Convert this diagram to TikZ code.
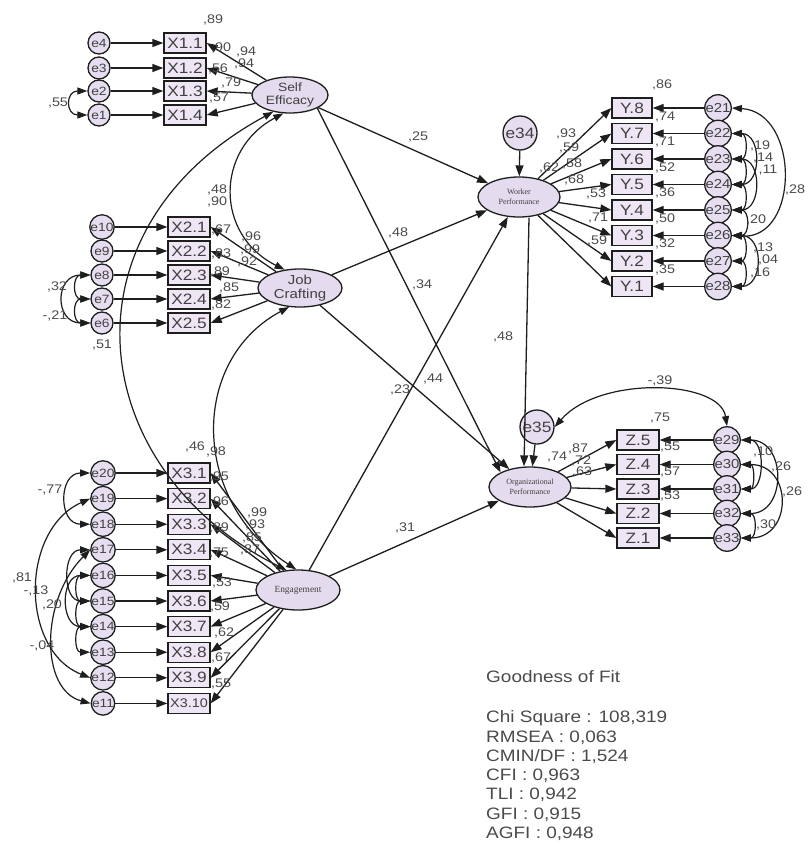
\documentclass[tikz,border=0pt]{standalone}
\usepackage{fontspec}
\setmainfont[FakeStretch=1.15]{Liberation Sans}
\newfontfamily\serifsmall{Liberation Serif}
\usetikzlibrary{shapes.geometric,arrows.meta}
\definecolor{latfill}{HTML}{E4DCEE}
\definecolor{boxfill}{HTML}{EEE6F4}
\definecolor{errfill}{HTML}{E6DEF0}
\definecolor{ink}{HTML}{1E1E1E}
\begin{document}
\begin{tikzpicture}[x=1pt,y=-1pt,
  obs/.style={draw=ink, line width=1.3pt, fill=boxfill, minimum width=42pt, minimum height=20pt, inner sep=0pt, font=\fontsize{15}{15}\selectfont, text=ink!85},
  err/.style={circle, draw=ink, line width=1.3pt, fill=errfill, minimum size=22pt, inner sep=0pt, font=\fontsize{12}{12}\selectfont, text=ink!85},
  errb/.style={err, minimum size=24pt, font=\fontsize{13}{13}\selectfont},
  lat/.style={ellipse, draw=ink, line width=1.3pt, fill=latfill, inner sep=0pt, align=center, text=ink!85},
  arr/.style={draw=ink, line width=1.3pt, -{Triangle[length=11pt,width=8pt]}},
  cov/.style={draw=ink, line width=1.2pt, {Triangle[length=10pt,width=7pt]}-{Triangle[length=10pt,width=7pt]}},
  lbl/.style={inner sep=0pt, font=\fontsize{12.5}{12.5}\selectfont, text=ink!80},
  gof/.style={inner sep=0pt, anchor=west, font=\fontsize{16.5}{16.5}\selectfont, text=ink!80}
]
\fill[white] (0,0) rectangle (807,843);
\useasboundingbox (0,0) rectangle (807,843);

% latent variables
\node[lat, minimum width=76pt, minimum height=36pt, font=\fontsize{12}{12.5}\selectfont] (SE) at (290,95) {Self\\Efficacy};
\node[lat, minimum width=84pt, minimum height=38pt, font=\fontsize{13}{13.5}\selectfont] (JC) at (300,288) {Job\\Crafting};
\node[lat, minimum width=84pt, minimum height=40pt, font=\serifsmall\fontsize{9.4}{10}\selectfont] (Eng) at (298,590) {Engagement};
\node[lat, minimum width=82pt, minimum height=40pt, font=\serifsmall\fontsize{8}{9.5}\selectfont] (WP) at (519,197) {Worker\\Performance};
\node[lat, minimum width=82pt, minimum height=40pt, font=\serifsmall\fontsize{8}{9.5}\selectfont] (Org) at (530,487) {Organizational\\Performance};
\node[err, minimum size=34pt, font=\fontsize{15}{15}\selectfont] (e34) at (520,133) {e34};
\node[err, minimum size=34pt, font=\fontsize{15}{15}\selectfont] (e35) at (537,427) {e35};

% X1 block
\foreach \i/\e/\yy in {1/4/43, 2/3/68, 3/2/91, 4/1/115} {
  \node[err] (e\e) at (99,\yy) {e\e};
  \node[obs] (X1\i) at (185,\yy) {X1.\i};
  \draw[arr] (e\e) -- (X1\i);
  \draw[arr] (SE) -- (X1\i.east);
}
% X2 block
\foreach \i/\e/\yy in {1/10/227, 2/9/251, 3/8/275, 4/7/299, 5/6/323} {
  \node[err] (e\e) at (102,\yy) {e\e};
  \node[obs] (X2\i) at (189,\yy) {X2.\i};
  \draw[arr] (e\e) -- (X2\i);
  \draw[arr] (JC) -- (X2\i.east);
}
% X3 block
\foreach \i in {1,...,10} {
  \pgfmathsetmacro\yy{473+25.6*(\i-1)}
  \pgfmathtruncatemacro\e{21-\i}
  \ifnum\i=10 \def\lab{\fontsize{12.5}{12.5}\selectfont X3.10}\else\def\lab{X3.\i}\fi
  \node[err] (e\e) at (103,\yy) {e\e};
  \node[obs] (X3\i) at (189,\yy) {\lab};
  \draw[arr] (e\e) -- (X3\i);
  \draw[arr] (Eng) -- (X3\i.east);
}
% Y block
\foreach \i in {1,...,8} {
  \pgfmathsetmacro\yy{108+25.5*(\i-1)}
  \pgfmathtruncatemacro\n{9-\i}
  \pgfmathtruncatemacro\e{20+\i}
  \node[errb] (e\e) at (718,\yy) {e\e};
  \node[obs, minimum width=40pt] (Y\n) at (632,\yy) {Y.\n};
  \draw[arr] (e\e) -- (Y\n);
  \draw[arr] (WP) -- (Y\n.west);
}
% Z block
\foreach \i in {1,...,5} {
  \pgfmathsetmacro\yy{440+24.5*(\i-1)}
  \pgfmathtruncatemacro\n{6-\i}
  \pgfmathtruncatemacro\e{28+\i}
  \node[errb] (e\e) at (727,\yy) {e\e};
  \node[obs] (Z\n) at (638,\yy) {Z.\n};
  \draw[arr] (e\e) -- (Z\n);
  \draw[arr] (Org) -- (Z\n.west);
}

% structural paths
\draw[arr] (e34) -- (WP);
\draw[arr] (e35) -- (Org);
\draw[arr] (SE) -- (WP);
\draw[arr] (SE.south east) -- (Org.north west);
\draw[arr] (JC) -- (WP);
\draw[arr] (JC) -- (Org);
\draw[arr] (Eng) -- (WP);
\draw[arr] (Eng) -- (Org);
\draw[arr] ([xshift=10pt]WP.south) -- ([xshift=-6pt]Org.north);

% latent covariances
\draw[cov] (SE.225) .. controls (55,230) and (85,470) .. (Eng.120);
\draw[cov] (SE.250) .. controls (215,150) and (215,235) .. (JC.130);
\draw[cov] (JC.240) .. controls (190,360) and (190,500) .. (Eng.95);

% error covariances, X blocks
\draw[cov] (e2.west) .. controls +(-22,0) and +(-22,0) .. (e1.west);
\draw[cov] (e8.west) .. controls +(-18,0) and +(-18,0) .. (e7.west);
\draw[cov] (e7.west) .. controls +(-18,0) and +(-18,0) .. (e6.west);
\draw[cov] (e8.west) .. controls +(-36,0) and +(-36,0) .. (e6.west);
\draw[cov] (e20.west) .. controls +(-32,0) and +(-32,0) .. (e18.west);
\draw[cov] (e19.west) .. controls (20,530) and (20,650) .. (e12.west);
\draw[cov] (e17.west) .. controls (40,600) and (40,690) .. (e11.west);
\draw[cov] (e16.west) .. controls +(-16,0) and +(-16,0) .. (e15.west);
\draw[cov] (e15.west) .. controls +(-16,0) and +(-16,0) .. (e14.west);
\draw[cov] (e16.west) .. controls +(-30,0) and +(-30,0) .. (e14.west);
\draw[cov] (e14.west) .. controls +(-16,0) and +(-16,0) .. (e13.west);
\draw[cov] (e17.west) .. controls +(-28,0) and +(-28,0) .. (e15.west);

% error covariances, Y block
\draw[cov] (e21.east) .. controls (800,112) and (800,240) .. (e26.east);
\draw[cov] (e22.east) .. controls +(16,0) and +(16,0) .. (e23.east);
\draw[cov] (e22.east) .. controls +(30,0) and +(30,0) .. (e24.east);
\draw[cov] (e23.east) .. controls +(16,0) and +(16,0) .. (e24.east);
\draw[cov] (e23.east) .. controls +(30,0) and +(30,0) .. (e25.east);
\draw[cov] (e24.east) .. controls +(16,0) and +(16,0) .. (e25.east);
\draw[cov] (e25.east) .. controls +(18,0) and +(18,0) .. (e26.east);
\draw[cov] (e26.east) .. controls +(16,0) and +(16,0) .. (e27.east);
\draw[cov] (e26.east) .. controls +(32,0) and +(32,0) .. (e28.east);
\draw[cov] (e27.east) .. controls +(16,0) and +(16,0) .. (e28.east);

% error covariances, Z block
\draw[cov] (e29.north) .. controls (720,380) and (600,375) .. (e35.east);
\draw[cov] (e29.east) .. controls +(24,0) and +(24,0) .. (e31.east);
\draw[cov] (e30.east) .. controls +(14,0) and +(14,0) .. (e31.east);
\draw[cov] (e29.east) .. controls +(46,0) and +(46,0) .. (e32.east);
\draw[cov] (e30.east) .. controls +(52,0) and +(52,0) .. (e33.east);
\draw[cov] (e32.east) .. controls +(16,0) and +(16,0) .. (e33.east);

% estimates
\foreach \x/\y/\t in {
  213/20/{,89}, 246/52/{,94}, 244/64/{,94}, 221/48/{,90}, 218/69/{,56}, 231/83/{,79}, 219/98/{,57}, 58/103/{,55},
  217/190/{,48}, 217/202/{,90}, 251/237/{,96}, 250/250/{,99}, 247/262/{,92},
  221/230/{,67}, 221/254/{,83}, 220/272/{,89}, 229/288/{,85}, 221/305/{,82}, 57/287/{,32}, 55/316/{-,21}, 102/345/{,51},
  195/447/{,46}, 216/452/{,98}, 257/513/{,99}, 255/525/{,93}, 252/538/{,85}, 250/550/{,87},
  219/477/{,95}, 219/502/{,96}, 219/528/{,89}, 219/553/{,75}, 222/583/{,53}, 220/607/{,59}, 224/633/{,62}, 221/658/{,67}, 221/684/{,55},
  50/490/{-,77}, 22/578/{,81}, 36/591/{-,13}, 52/605/{,20}, 42/646/{-,04},
  418/137/{,25}, 398/233/{,48}, 422/285/{,34}, 400/390/{,23}, 433/379/{,44}, 405/528/{,31}, 503/337/{,48},
  662/85/{,86}, 566/134/{,93}, 569/148/{,59}, 549/168/{,62}, 572/164/{,58}, 574/180/{,68}, 596/194/{,53}, 598/218/{,71}, 597/241/{,59},
  665/117/{,74}, 665/142/{,71}, 665/168/{,52}, 665/193/{,36}, 665/219/{,50}, 665/244/{,32}, 665/270/{,35},
  795/190/{,28}, 760/146/{,19}, 763/158/{,14}, 768/170/{,11}, 756/220/{,20}, 763/248/{,13}, 768/260/{,04}, 760/273/{,16},
  660/418/{,75}, 557/457/{,74}, 578/449/{,87}, 581/461/{,72}, 582/472/{,63},
  670/447/{,55}, 670/472/{,57}, 670/496/{,53},
  660/381/{-,39}, 763/452/{,10}, 781/467/{,26}, 792/492/{,26}, 766/525/{,30}}
  { \node[lbl] at (\x,\y) {\t}; }

% goodness of fit
\node[gof] (g0) at (486,677) {Goodness of Fit};
\foreach \t [count=\k from 0] in {Chi Square : 108{,}319, RMSEA : 0{,}063, CMIN/DF : 1{,}524, CFI : 0{,}963, TLI : 0{,}942, GFI : 0{,}915, AGFI : 0{,}948}
  { \node[gof] (g\k) at (486,718+19.3*\k) {\t}; }
\end{tikzpicture}
\end{document}
